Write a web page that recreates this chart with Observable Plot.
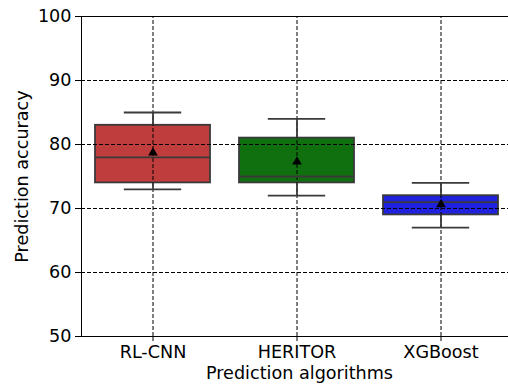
<!DOCTYPE html>
<html>
<head>
<meta charset="utf-8">
<script src="https://cdn.jsdelivr.net/npm/d3@7"></script>
<script src="https://cdn.jsdelivr.net/npm/@observablehq/plot@0.6"></script>
<style>
  html, body { margin: 0; padding: 0; background: white; overflow: hidden; }
</style>
</head>
<body>
<div id="chart"></div>
<script>
const categories = ["RL-CNN", "HERITOR", "XGBoost"];
const whiskerLow = [73, 72, 67];
const q1 = [74, 74, 69];
const median = [78, 75, 71];
const q3 = [83, 81, 72];
const whiskerHigh = [85, 84, 74];
const means = [78.7, 77.3, 70.65];
const colors = ["#c03d3e", "#107010", "#2020df"];
const yTicks = [50, 60, 70, 80, 90, 100];
const gridY = [60, 70, 80, 90];

const rows = categories.map((c, i) => ({
  cat: c, lo: whiskerLow[i], q1: q1[i], med: median[i], q3: q3[i], hi: whiskerHigh[i], mean: means[i], color: colors[i]
}));

const edge = "#3a3a3a";
const font = "DejaVu Sans";
const fs = 17.6;

const chart = Plot.plot({
  width: 508,
  height: 385,
  marginLeft: 81,
  marginRight: -5,
  marginTop: 16,
  marginBottom: 49,
  style: { fontFamily: font, fontSize: fs + "px", color: "black", background: "white" },
  x: { type: "band", domain: categories, paddingInner: 0.2, paddingOuter: 0.1, align: 0.5 },
  y: { domain: [50, 100] },
  color: { type: "identity" },
  marks: [
    Plot.barY(rows, { x: "cat", y1: "q1", y2: "q3", fill: "color", stroke: edge, strokeWidth: 1.8 }),
    Plot.ruleY(gridY, { stroke: "black", strokeWidth: 1, strokeDasharray: "4,2" }),
    Plot.ruleX(categories, { x: d => d, y1: 50, y2: 100, stroke: "black", strokeWidth: 1, strokeDasharray: "4,2" }),
    Plot.ruleX(rows, { x: "cat", y1: "lo", y2: "q1", stroke: edge, strokeWidth: 1.8 }),
    Plot.ruleX(rows, { x: "cat", y1: "q3", y2: "hi", stroke: edge, strokeWidth: 1.8 }),
    Plot.tickY(rows, { x: "cat", y: "lo", stroke: edge, strokeWidth: 1.8, insetLeft: 28.8, insetRight: 28.8 }),
    Plot.tickY(rows, { x: "cat", y: "hi", stroke: edge, strokeWidth: 1.8, insetLeft: 28.8, insetRight: 28.8 }),
    Plot.tickY(rows, { x: "cat", y: "med", stroke: edge, strokeWidth: 1.8 }),
    Plot.dot(rows, { x: "cat", y: "mean", symbol: "triangle", r: 3.6, fill: "black", stroke: "none" }),
    Plot.frame({ stroke: "black", strokeWidth: 1 }),
    Plot.axisY(yTicks, { tickSize: 6, tickPadding: 4, stroke: "black", fill: "black", fontSize: fs, label: null }),
    Plot.axisX(categories, { tickSize: 5, tickPadding: 4, stroke: "black", fill: "black", fontSize: fs, label: null }),
    Plot.text(["Prediction accuracy"], { frameAnchor: "left", dx: -59, rotate: -90, textAnchor: "middle", fontSize: fs, fill: "black", text: d => d }),
    Plot.text(["Prediction algorithms"], { frameAnchor: "bottom", dx: 2, dy: 42, lineAnchor: "bottom", fontSize: fs, fill: "black", text: d => d })
  ]
});
document.getElementById("chart").appendChild(chart);
</script>
</body>
</html>
